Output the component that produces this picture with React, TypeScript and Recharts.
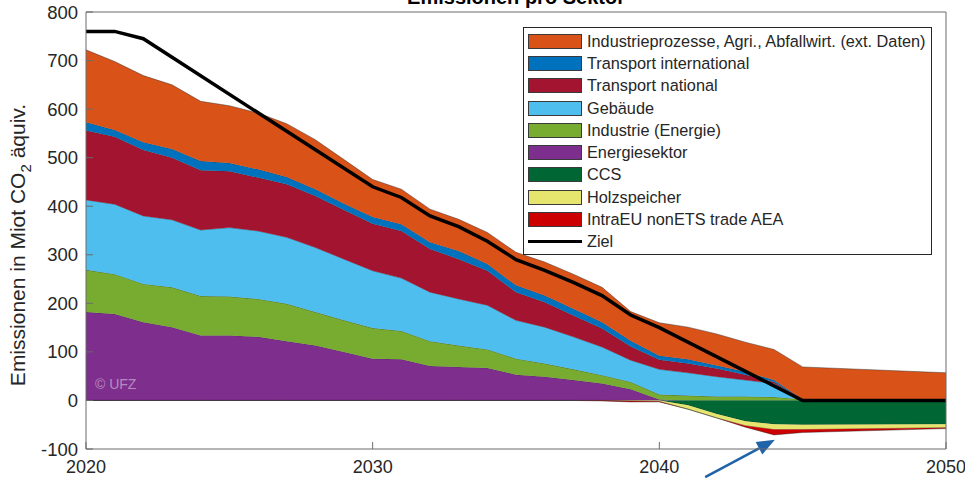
import { ComposedChart, Area, Line, XAxis, YAxis, ReferenceLine } from 'recharts'

const years = [2020, 2021, 2022, 2023, 2024, 2025, 2026, 2027, 2028, 2029, 2030, 2031, 2032, 2033, 2034, 2035, 2036, 2037, 2038, 2039, 2040, 2041, 2042, 2043, 2044, 2045, 2050]

// Mio t CO2-Äquivalente, positive Sektoren (von unten nach oben gestapelt)
const energiesektor = [182, 178, 161, 151, 134, 134, 131, 122, 113, 100, 86, 85, 71, 69, 67, 53, 49, 42, 35, 23, 2, 0, 0, 0, 0, 0, 0]
const industrieEnergie = [87, 82, 79, 82, 81, 80, 78, 77, 69, 65, 63, 58, 51, 44, 38, 33, 27, 22, 17, 15, 10, 10, 8, 8, 7, 2, 2]
const gebaeude = [144, 144, 140, 139, 136, 142, 140, 137, 133, 126, 118, 109, 101, 96, 91, 79, 75, 67, 58, 45, 52, 47, 41, 34, 28, 0, 0]
const transportNational = [143, 139, 136, 128, 123, 116, 110, 109, 106, 101, 97, 97, 89, 82, 71, 58, 51, 44, 38, 28, 20, 19, 17, 11, 3, 0, 0]
const transportInternational = [17, 14, 16, 18, 19, 17, 17, 15, 14, 13, 14, 14, 14, 17, 14, 14, 14, 14, 13, 12, 8, 9, 6, 6, 4, 0, 0]
const industrieprozesse = [149, 141, 137, 132, 123, 118, 116, 110, 102, 91, 77, 72, 68, 65, 65, 68, 69, 71, 72, 60, 68, 66, 65, 61, 63, 67, 55]

// Senken (negativ gestapelt)
const ccs = [0, 0, 0, 0, 0, 0, 0, 0, 0, 0, 0, 0, 0, 0, 0, 0, 0, 0, 0, 0, 0, -10, -28, -43, -49, -50, -49]
const holzspeicher = [0, 0, 0, 0, 0, 0, 0, 0, 0, 0, 0, 0, 0, 0, 0, 0, 0, 0, 0, -1, -2, -8, -8, -9, -11, -10, -7]
const intraEU = [0, 0, 0, 0, 0, 0, 0, 0, 0, 0, 0, 0, 0, 0, 0, 0, 0, 0, -1, -2, -1, 0, 0, -3, -11, -6, -2]

const ziel = [760, 760, 745, null, null, null, null, null, null, null, 440, 418, 380, 358, 328, 290, 268, 243, 216, 176, 150, null, null, null, null, 0, 0]

const xTicks = [2020, 2030, 2040, 2050]
const yTicks = [-100, 0, 100, 200, 300, 400, 500, 600, 700, 800]

const data = years.map((year, i) => ({
  year,
  energiesektor: energiesektor[i],
  industrieEnergie: industrieEnergie[i],
  gebaeude: gebaeude[i],
  transportNational: transportNational[i],
  transportInternational: transportInternational[i],
  industrieprozesse: industrieprozesse[i],
  ccs: ccs[i],
  holzspeicher: holzspeicher[i],
  intraEU: intraEU[i],
  ziel: ziel[i],
}))

const positive = [
  { key: 'energiesektor', name: 'Energiesektor', color: '#7E2F8E' },
  { key: 'industrieEnergie', name: 'Industrie (Energie)', color: '#77AC30' },
  { key: 'gebaeude', name: 'Gebäude', color: '#4DBEEE' },
  { key: 'transportNational', name: 'Transport national', color: '#A2142F' },
  { key: 'transportInternational', name: 'Transport international', color: '#0072BD' },
  { key: 'industrieprozesse', name: 'Industrieprozesse, Agri., Abfallwirt. (ext. Daten)', color: '#D95319' },
]
const negative = [
  { key: 'ccs', name: 'CCS', color: '#006633' },
  { key: 'holzspeicher', name: 'Holzspeicher', color: '#E6E66E' },
  { key: 'intraEU', name: 'IntraEU nonETS trade AEA', color: '#CC0000' },
]
const legendItems = [...positive].reverse().concat(negative)

const FONT = '"Liberation Sans", Arial, Helvetica, sans-serif'
const TXT = '#262626'
const AX = '#6b6b6b'

function Arrow(p: any) {
  const { x1, y1, x2, y2 } = p
  const a = Math.atan2(y2 - y1, x2 - x1)
  const len = 18, half = 7
  const bx = x2 - len * Math.cos(a), by = y2 - len * Math.sin(a)
  const px = -Math.sin(a) * half, py = Math.cos(a) * half
  return (
    <g>
      <line x1={x1} y1={y1} x2={bx} y2={by} stroke="#1F63A8" strokeWidth={2.5} />
      <polygon points={`${x2},${y2} ${bx + px},${by + py} ${bx - px},${by - py}`} fill="#1F63A8" />
    </g>
  )
}

export default function App() {
  return (
    <div style={{ position: 'absolute', left: 0, top: 0, width: 965, height: 479, fontFamily: FONT, background: '#fff', overflow: 'hidden' }}>
      <ComposedChart width={965} height={479} data={data} margin={{ top: 11, right: 0, bottom: 0, left: 26 }}>
        <XAxis xAxisId="b" dataKey="year" type="number" domain={[2020, 2050]} ticks={xTicks} allowDataOverflow
          stroke={AX} tickSize={-7} tickMargin={18} height={30}
          tick={{ fill: TXT, fontSize: 18, fontFamily: FONT }} />
        <XAxis xAxisId="t" orientation="top" dataKey="year" type="number" domain={[2020, 2050]} ticks={xTicks}
          stroke={AX} tickSize={-7} tick={false} height={1} />
        <YAxis yAxisId="l" type="number" domain={[-100, 800]} ticks={yTicks} allowDataOverflow
          stroke={AX} tickSize={-7} tickMargin={15} width={60}
          tick={{ fill: TXT, fontSize: 18.5, fontFamily: FONT }} />
        <YAxis yAxisId="r" orientation="right" type="number" domain={[-100, 800]} ticks={yTicks}
          stroke={AX} tickSize={-7} tick={false} width={19} />
        {positive.map(s => (
          <Area key={s.key} xAxisId="b" yAxisId="l" type="linear" dataKey={s.key} stackId="pos"
            fill={s.color} fillOpacity={1} stroke="#222" strokeWidth={0.6} strokeOpacity={0.7}
            dot={false} activeDot={false} isAnimationActive={false} />
        ))}
        {negative.map(s => (
          <Area key={s.key} xAxisId="b" yAxisId="l" type="linear" dataKey={s.key} stackId="neg"
            fill={s.color} fillOpacity={1} stroke="#222" strokeWidth={0.6} strokeOpacity={0.7}
            dot={false} activeDot={false} isAnimationActive={false} />
        ))}
        <Line xAxisId="b" yAxisId="l" type="linear" dataKey="ziel" stroke="#000" strokeWidth={3.5}
          connectNulls dot={false} activeDot={false} isAnimationActive={false} />
        <ReferenceLine xAxisId="b" yAxisId="l" ifOverflow="visible"
          segment={[{ x: 2041.6, y: -158 }, { x: 2044.03, y: -81 }]} shape={Arrow} />
      </ComposedChart>

      <div style={{ position: 'absolute', left: 316, top: -13, width: 400, textAlign: 'center', fontSize: 20, fontWeight: 'bold', lineHeight: '20px', color: '#000' }}>
        Emissionen pro Sektor
      </div>

      <div style={{ position: 'absolute', left: 18 - 200, top: 245 - 12, width: 400, height: 24, lineHeight: '24px', transform: 'rotate(-90deg)', textAlign: 'center', fontSize: 21, color: TXT, whiteSpace: 'nowrap' }}>
        Emissionen in Miot CO<span style={{ fontSize: 15, position: 'relative', top: 6 }}>2</span> äquiv.
      </div>

      <div style={{ position: 'absolute', left: 95, top: 377, fontSize: 14, lineHeight: '14px', color: 'rgba(255,255,255,0.45)' }}>© UFZ</div>

      <div style={{ position: 'absolute', left: 523, top: 27, width: 407, height: 224, border: '1px solid #262626', background: '#fff', paddingTop: 2, boxSizing: 'content-box' }}>
        {legendItems.map(item => (
          <div key={item.key} style={{ display: 'flex', alignItems: 'center', height: 22.3 }}>
            <div style={{ marginLeft: 4, width: 52, height: 13, border: '1px solid #3a3a3a', background: item.color, flexShrink: 0 }} />
            <span style={{ marginLeft: 5, fontSize: 16.3, color: TXT, whiteSpace: 'nowrap' }}>{item.name}</span>
          </div>
        ))}
        <div style={{ display: 'flex', alignItems: 'center', height: 22.3 }}>
          <div style={{ marginLeft: 4, width: 54, height: 3, background: '#000', flexShrink: 0 }} />
          <span style={{ marginLeft: 5, fontSize: 16.3, color: TXT }}>Ziel</span>
        </div>
      </div>
    </div>
  )
}
